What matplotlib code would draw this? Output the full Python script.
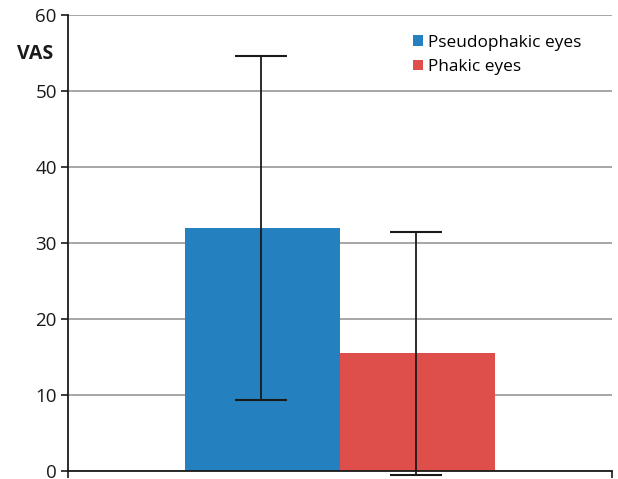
import matplotlib.pyplot as plt
import numpy as np

plt.rcParams['font.family'] = ['Open Sans', 'DejaVu Sans']

groups = ['Pseudophakic eyes', 'Phakic eyes']
means = [32.0, 15.5]
sds = [22.6, 16.0]
colors = ['#2580c0', '#de4f4c']
yticks = [0, 10, 20, 30, 40, 50, 60]

fig = plt.figure(figsize=(6.18, 4.79), dpi=100)
ax = fig.add_axes([0.110, 0.0167, 0.880, 0.951])

width = 0.285
offsets = np.array([-0.5, 0.5]) * width
for i in range(len(groups)):
    ax.bar(offsets[i], means[i], width=width, color=colors[i], label=groups[i], zorder=2)
    eb = ax.errorbar(offsets[i] - 0.003, means[i], yerr=sds[i], fmt='none', ecolor='#1a1a1a',
                     elinewidth=1.3, capsize=19, capthick=1.5, zorder=3)
    for art in eb.lines[1] + eb.lines[2]:
        art.set_clip_on(False)

ax.set_xlim(-0.5, 0.5)
ax.set_ylim(0, 60)
ax.set_yticks(yticks)
ax.set_xticks([-0.5, 0.5])
ax.set_xticklabels([])
ax.grid(axis='y', color='#a6a6a6', linewidth=1.4, zorder=0)
ax.set_axisbelow(True)

for s in ['top', 'right']:
    ax.spines[s].set_visible(False)
ax.spines['left'].set_linewidth(1.3)
ax.spines['bottom'].set_linewidth(1.3)
ax.spines['bottom'].set_color('#1a1a1a')
ax.spines['left'].set_color('#1a1a1a')
ax.tick_params(axis='y', length=5, width=1.2, labelsize=13.5, colors='#1a1a1a', pad=3)
ax.tick_params(axis='x', length=5, width=1.2, colors='#1a1a1a')

fig.text(0.028, 0.888, 'VAS', fontsize=14, fontweight='bold', color='#1a1a1a', va='center')

ax.legend(loc='upper left', bbox_to_anchor=(0.635, 0.958), frameon=False, fontsize=12.4,
          handlelength=0.58, handleheight=0.58, handletextpad=0.3, labelspacing=0.5,
          borderaxespad=0, borderpad=0)

fig.savefig('out.png', dpi=100)
